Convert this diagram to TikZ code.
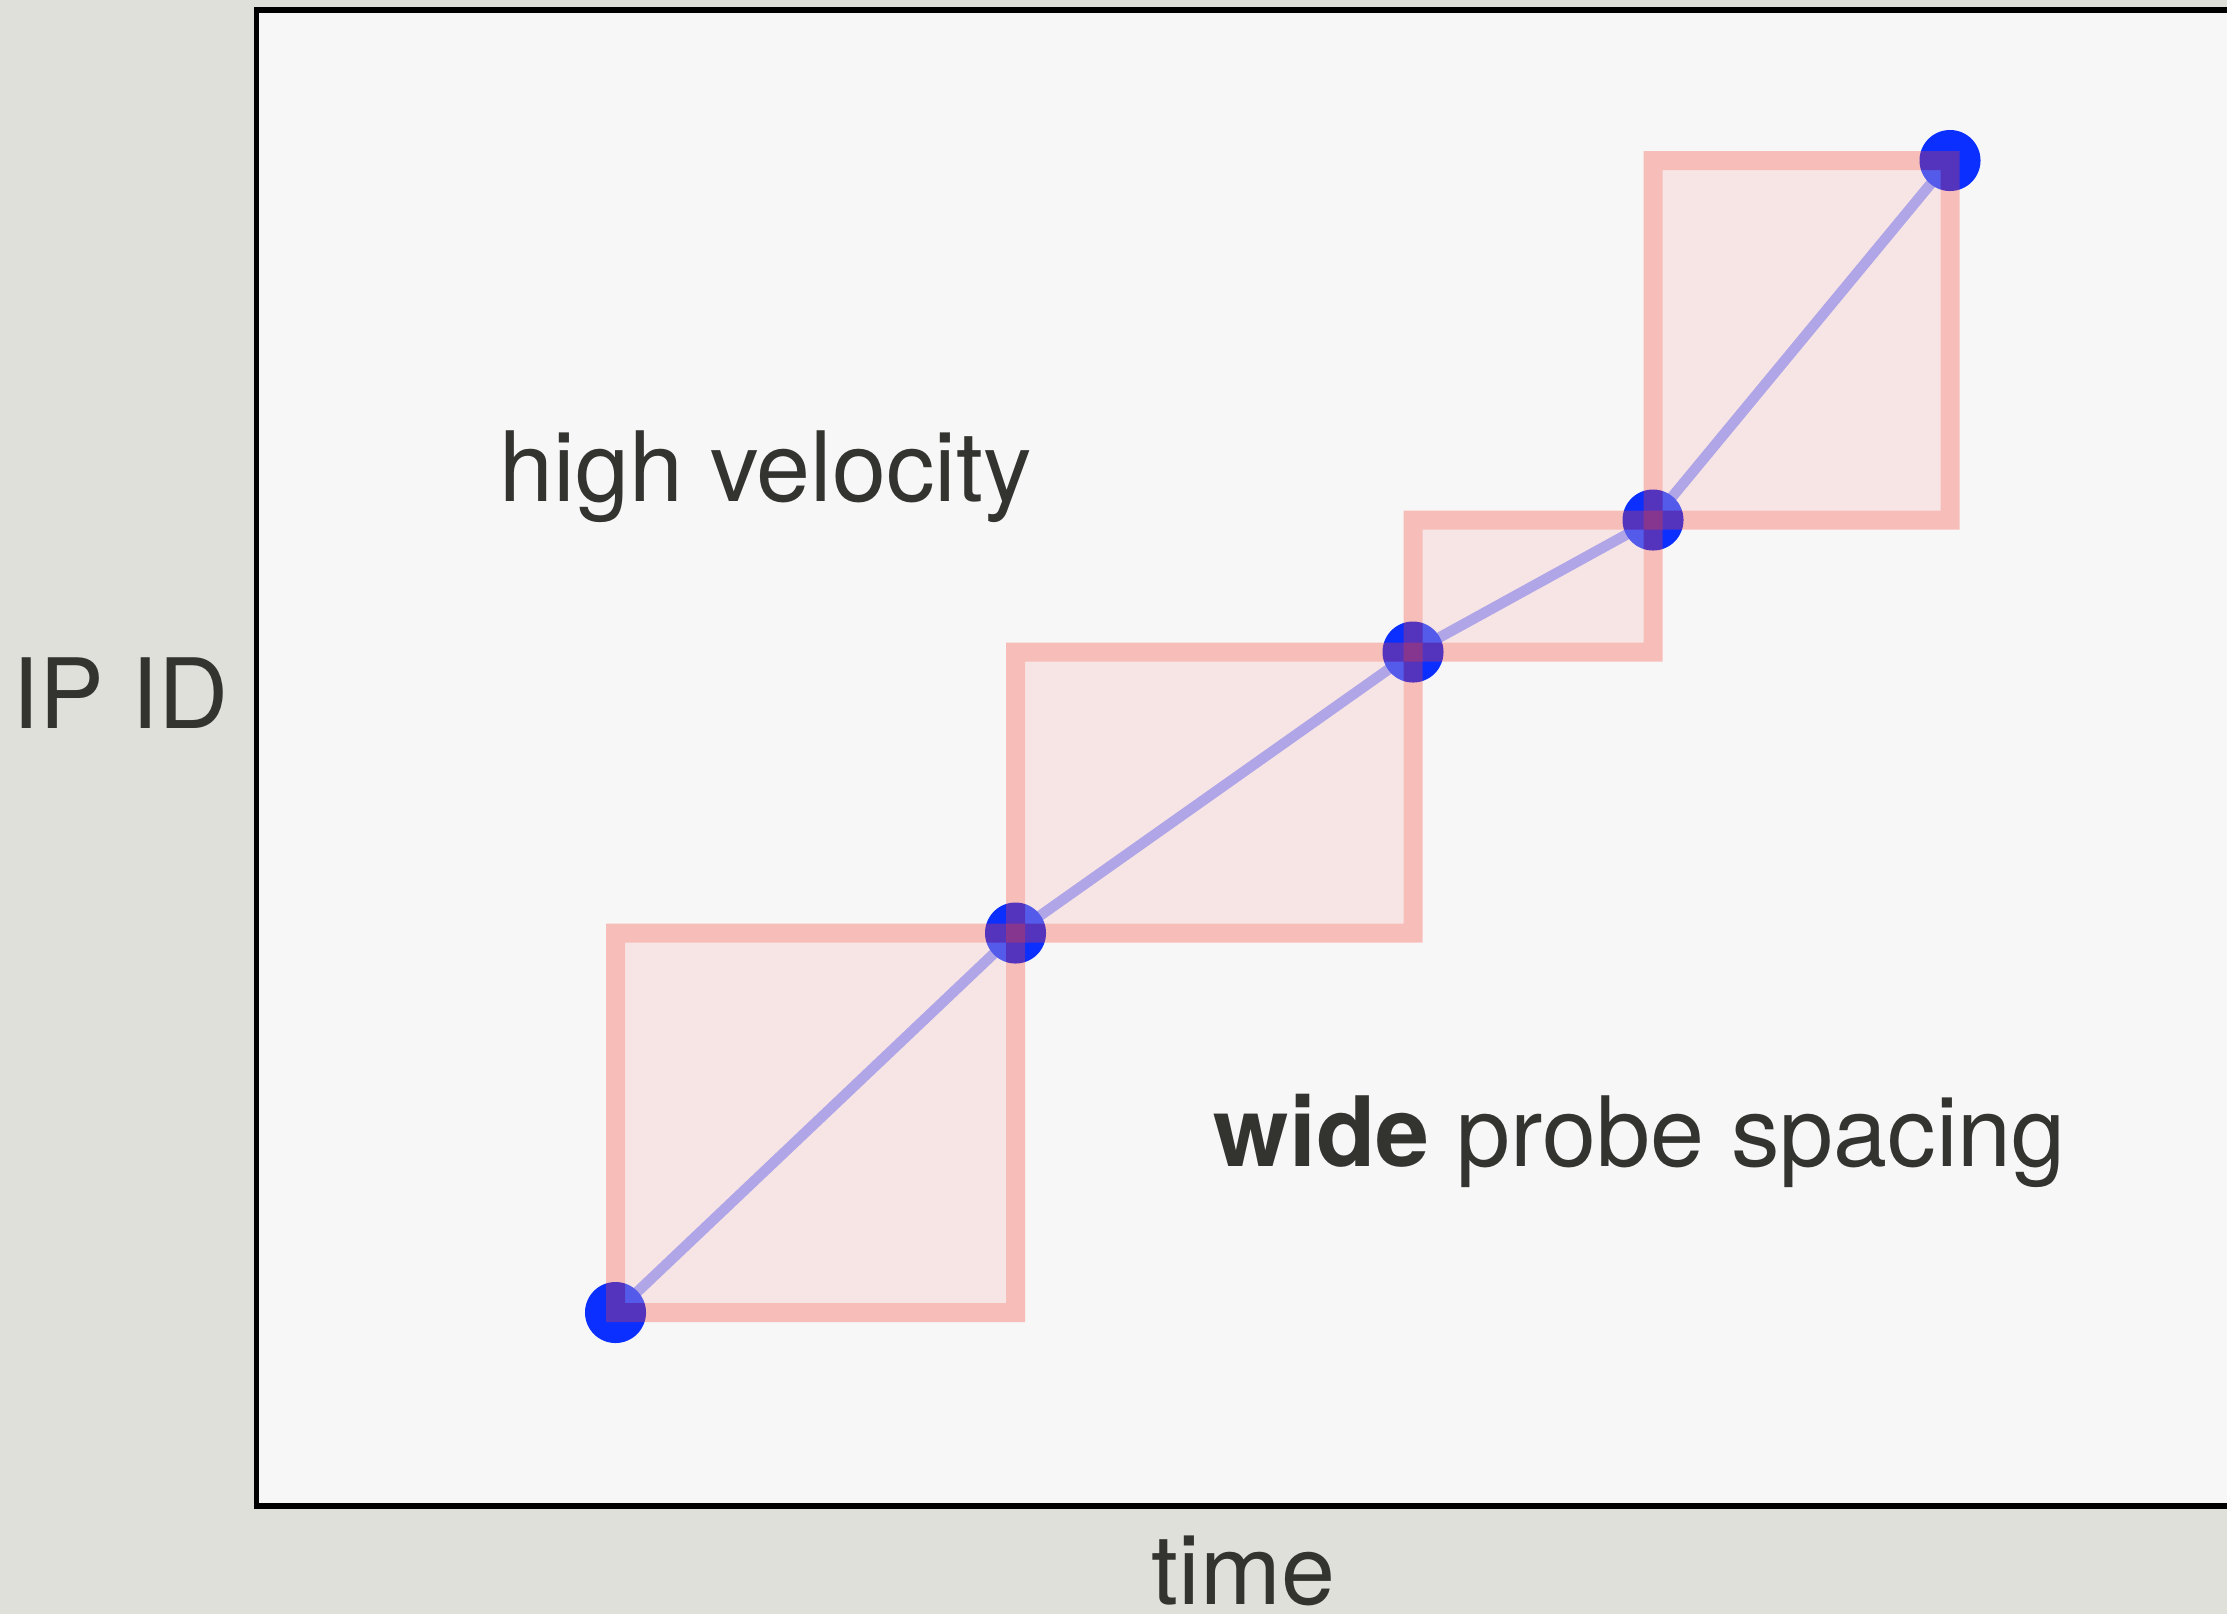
\documentclass[tikz,border=0pt]{standalone}
\usepackage{fontspec}
\setmainfont{TeX Gyre Heros}
\usetikzlibrary{positioning}
\definecolor{paperbg}{RGB}{224,224,218}
\definecolor{plotbg}{HTML}{F7F7F7}
\definecolor{labeltext}{RGB}{51,51,48}
\definecolor{probedot}{RGB}{10,47,255}
\definecolor{trendline}{RGB}{143,154,251}
\definecolor{spanedge}{RGB}{250,63,44}
\definecolor{spanfill}{RGB}{250,192,189}

\begin{document}
\begin{tikzpicture}[x=0.01cm, y=-0.01cm,
    axislabel/.style={inner sep=0pt, anchor=base west, text=labeltext,
                      font=\fontsize{27.6}{33}\selectfont},
    probe/.style={circle, fill=probedot, minimum size=0.61cm, inner sep=0pt},
    spanbox/.style={draw=spanedge, fill=spanfill, line width=5.4pt}]
  \clip (0,0) rectangle (2227,1614);
  \fill[paperbg] (0,0) rectangle (2227,1614);
  % plot area, open to the right
  \draw[fill=plotbg, line width=1.56pt] (2300,10) -- (256.5,10) -- (256.5,1506) -- (2300,1506);

  % probe positions
  \coordinate (c1) at (615.5,1312.5);
  \coordinate (c2) at (1015.5,933);
  \coordinate (c3) at (1413,652);
  \coordinate (c4) at (1653,520);
  \coordinate (c5) at (1950,160.5);

  % trend through the probes, under the dots
  \draw[trendline, line width=3pt] (c1) -- (c2) -- (c3) -- (c4) -- (c5);

  \foreach \i in {1,...,5}
    \node[probe] (p\i) at (c\i) {};

  % spacing boxes between consecutive probes
  \foreach \a/\b in {p1/p2, p2/p3, p3/p4, p4/p5} {
    \begin{scope}[transparency group, opacity=0.31]
      \draw[spanbox] (\a.center) rectangle (\b.center);
    \end{scope}
  }

  % labels
  \node[axislabel] (ylabel) at (12,728) {IP ID};
  \node[axislabel] (xlabel) at (1151,1604) {time};
  \node[axislabel] (hvlabel) at (499,501) {high velocity};
  \node[axislabel] (wslabel) at (1213,1166) {\textbf{wide} probe spacing};
\end{tikzpicture}
\end{document}
